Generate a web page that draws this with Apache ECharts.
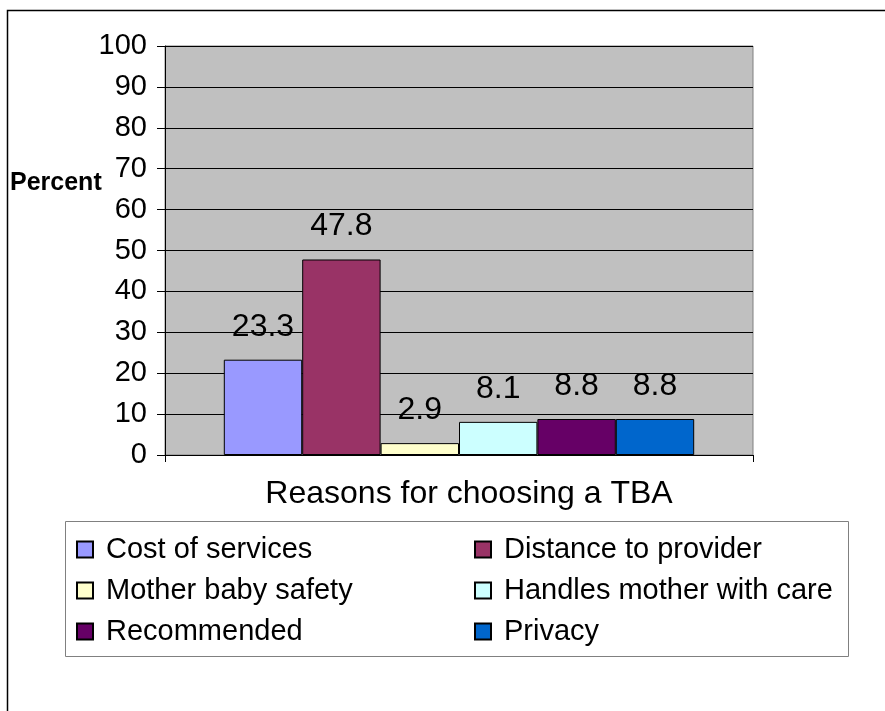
<!DOCTYPE html>
<html lang="en">
<head>
    <meta charset="UTF-8">
    <title>Reasons for choosing a TBA</title>
    <script src="https://cdn.jsdelivr.net/npm/echarts@6/dist/echarts.min.js"></script>
    <style>
        html, body { margin: 0; padding: 0; background: #fff; }
        #main { width: 885px; height: 711px; }
    </style>
</head>
<body>
<div id="main"></div>
<script>
    // data
    var categories = ['Reasons for choosing a TBA'];
    var reasons = ['Cost of services', 'Distance to provider', 'Mother baby safety',
                   'Handles mother with care', 'Recommended', 'Privacy'];
    var percents = [23.3, 47.8, 2.9, 8.1, 8.8, 8.8];
    var yTicks = { min: 0, max: 100, step: 10 };

    var palette = ['#9999FF', '#993366', '#FFFFCC', '#CCFFFF', '#660066', '#0066CC'];
    var font = '"Liberation Sans", Arial, sans-serif';

    var myChart = echarts.init(document.getElementById('main'));

    // one bar series per reason, all in the same category
    var series = [];
    for (var i = 0; i < reasons.length; i++) {
        series.push({
            name: reasons[i],
            type: 'bar',
            data: [percents[i]],
            barGap: '0%',
            barCategoryGap: '20%',
            itemStyle: { borderColor: '#000', borderWidth: 1 },
            label: {
                show: true,
                position: 'top',
                distance: 17,
                color: '#000',
                fontSize: 32,
                fontFamily: font
            }
        });
    }

    var legendText = { color: '#000', fontSize: 29, lineHeight: 29, fontFamily: font, padding: [0, 0, 0, 8] };

    var option = {
        animation: false,
        color: palette,
        textStyle: { fontFamily: font },
        grid: {
            left: 165, top: 46, right: 132, bottom: 256,
            show: true,
            backgroundColor: '#C0C0C0',
            borderColor: '#808080',
            borderWidth: 1
        },
        title: {
            text: 'Percent',
            left: 5, top: 166,
            textStyle: { color: '#000', fontSize: 25, fontWeight: 'bold', fontFamily: font }
        },
        legend: [
            {
                orient: 'vertical',
                left: 71, top: 530,
                itemWidth: 16, itemHeight: 16, itemGap: 12,
                icon: 'rect',
                data: [reasons[0], reasons[2], reasons[4]],
                textStyle: legendText
            },
            {
                orient: 'vertical',
                left: 469, top: 530,
                itemWidth: 16, itemHeight: 16, itemGap: 12,
                icon: 'rect',
                data: [reasons[1], reasons[3], reasons[5]],
                textStyle: legendText
            }
        ],
        xAxis: {
            type: 'category',
            data: categories,
            axisLine: { lineStyle: { color: '#000', width: 1 } },
            axisTick: { show: true, length: 7, lineStyle: { color: '#000' } },
            axisLabel: {
                color: '#000', fontSize: 32, margin: 23,
                padding: [0, 0, 0, 20],
                fontFamily: font
            }
        },
        yAxis: {
            type: 'value',
            min: yTicks.min,
            max: yTicks.max,
            interval: yTicks.step,
            axisLine: { show: true, lineStyle: { color: '#000', width: 1 } },
            axisTick: { show: true, length: 8, lineStyle: { color: '#000' } },
            axisLabel: { color: '#000', fontSize: 29, margin: 18, fontFamily: font },
            splitLine: { show: true, lineStyle: { color: '#000', width: 1 } }
        },
        graphic: [
            {
                // legend frame
                type: 'rect',
                shape: { x: 65.5, y: 521.5, width: 783, height: 135 },
                style: { fill: 'none', stroke: '#808080', lineWidth: 1 },
                z: -1
            },
            {
                // outer chart frame, runs off the right and bottom edges
                type: 'rect',
                shape: { x: 7.5, y: 10.5, width: 1000, height: 1000 },
                style: { fill: 'none', stroke: '#000', lineWidth: 1.5 },
                z: -1
            }
        ],
        series: series
    };

    myChart.setOption(option);
</script>
</body>
</html>
